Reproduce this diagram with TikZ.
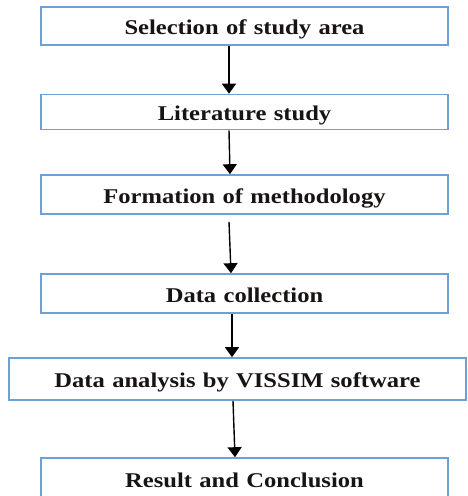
\documentclass[tikz,border=0pt]{standalone}
\usepackage{fontspec}
\setmainfont{Liberation Serif}
\newfontfamily\boxfont[FakeStretch=1.17]{Liberation Serif}
\usetikzlibrary{arrows.meta}
\definecolor{boxblue}{RGB}{110,160,215}
\definecolor{txt}{RGB}{25,20,20}
\newcommand{\widesp}{\spaceskip=0.35em plus 0.1em\relax}
\tikzset{
  stepbox/.style={draw=boxblue, line width=1.6pt, fill=white, inner sep=0pt,
    text height=17pt, text depth=0pt,
    text=txt, font=\boxfont\fontsize{21}{25}\selectfont\bfseries, execute at begin node=\widesp},
  arr/.style={line width=1.4pt, -{Triangle[length=10pt,width=14pt]}}
}
\begin{document}
\begin{tikzpicture}[x=1pt,y=-1pt]
\useasboundingbox (0,0) rectangle (467,496);
\fill[white] (0,0) rectangle (467,496);
\node[stepbox, minimum width=407pt, minimum height=38pt] (b1) at (244.5,26) {Selection of study area};
\node[stepbox, minimum width=407pt, minimum height=35pt] (b2) at (244.5,112) {Literature study};
\node[stepbox, minimum width=407pt, minimum height=39pt] (b3) at (244.5,194.5) {Formation of methodology};
\node[stepbox, minimum width=407pt, minimum height=39pt] (b4) at (244.5,293.5) {Data collection};
\node[stepbox, minimum width=457pt, minimum height=42pt] (b5) at (237.5,379) {Data analysis by VISSIM software};
\node[stepbox, minimum width=407pt, minimum height=42pt] (b6) at (244.5,479) {Result and Conclusion};
\draw[arr] ([xshift=-15.5pt]b1.south) -- ([xshift=-15.5pt]b2.north);
\draw[arr] ([xshift=-15.5pt]b2.south) -- ([xshift=-14.5pt]b3.north);
\draw[arr] ([xshift=-15.5pt,yshift=-7pt]b3.south) -- ([xshift=-13.5pt]b4.north);
\draw[arr] ([xshift=-12.5pt]b4.south) -- ([xshift=-5.5pt]b5.north);
\draw[arr] ([xshift=-4.5pt]b5.south) -- ([xshift=-9.5pt]b6.north);
\end{tikzpicture}
\end{document}
